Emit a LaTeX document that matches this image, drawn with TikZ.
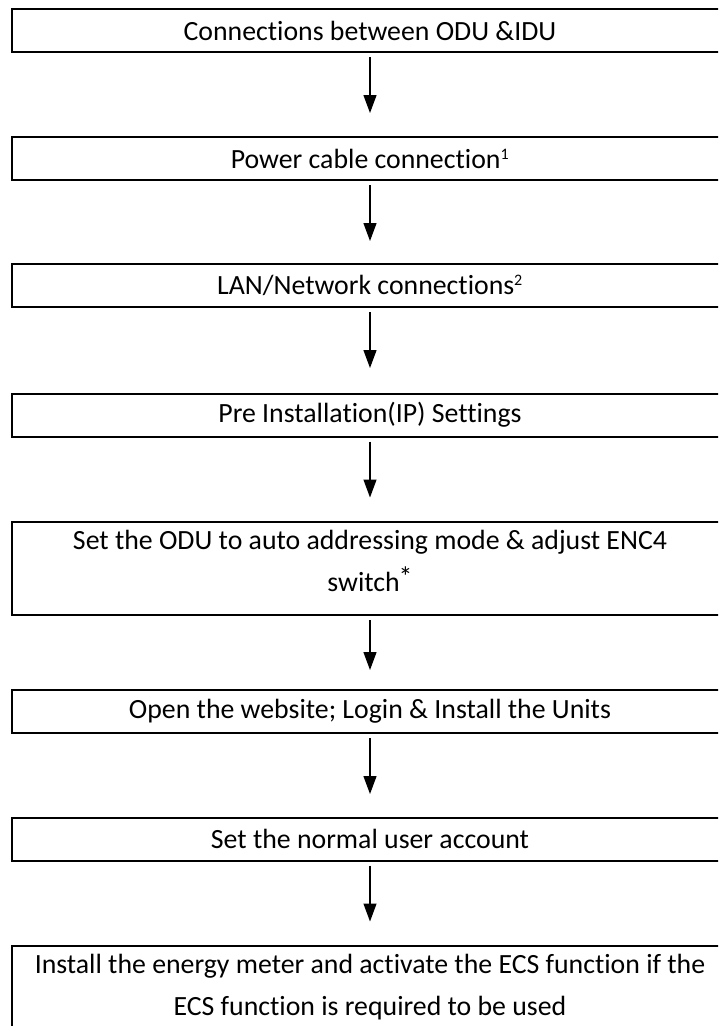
\documentclass[tikz,border=0pt]{standalone}
\usepackage{fontspec}
\setmainfont{Carlito}[RawFeature={-liga}]
\usetikzlibrary{arrows.meta}
\begin{document}
\begin{tikzpicture}[x=1pt,y=-1pt,
  stepbox/.style={draw=black,line width=2pt,minimum width=716pt,inner sep=0pt,align=center,
    font=\fontsize{27.8}{42}\selectfont},
  onebox/.style={stepbox,minimum height=43pt},
  twobox/.style={stepbox,minimum height=93pt,text depth=16pt},
  arr/.style={line width=1.3pt,-{Triangle[length=18pt,width=13pt]}}]
\useasboundingbox (0,0) rectangle (718,1026);
\clip (0,0) rectangle (718,1026);
\node[onebox] (b1) at (370,30.5) {Connections between ODU \&IDU};
\node[onebox] (b2) at (370,158.5) {Power cable connection\textsuperscript{\fontsize{16}{16}\selectfont 1}};
\node[onebox] (b3) at (370,285.5) {LAN/Network connections\textsuperscript{\fontsize{16}{16}\selectfont 2}};
\node[onebox] (b4) at (370,415) {Pre Installation(IP) Settings};
\node[twobox] (b5) at (370,568.5) {Set the ODU to auto addressing mode \& adjust ENC4\\switch\kern-1pt\raisebox{5pt}{*}};
\node[onebox] (b6) at (370,711.5) {Open the website; Login \& Install the Units};
\node[onebox] (b7) at (370,839) {Set the normal user account};
\node[twobox] (b8) at (370,992.5) {Install the energy meter and activate the ECS function if the\\ECS function is required to be used};
\foreach \a in {b1,b2,b3,b4,b6,b7}
  \draw[arr] ([yshift=-4pt]\a.south) -- ([yshift=-60pt]\a.south);
\draw[arr] ([yshift=-4pt]b5.south) -- ([yshift=-54pt]b5.south);
\end{tikzpicture}
\end{document}
